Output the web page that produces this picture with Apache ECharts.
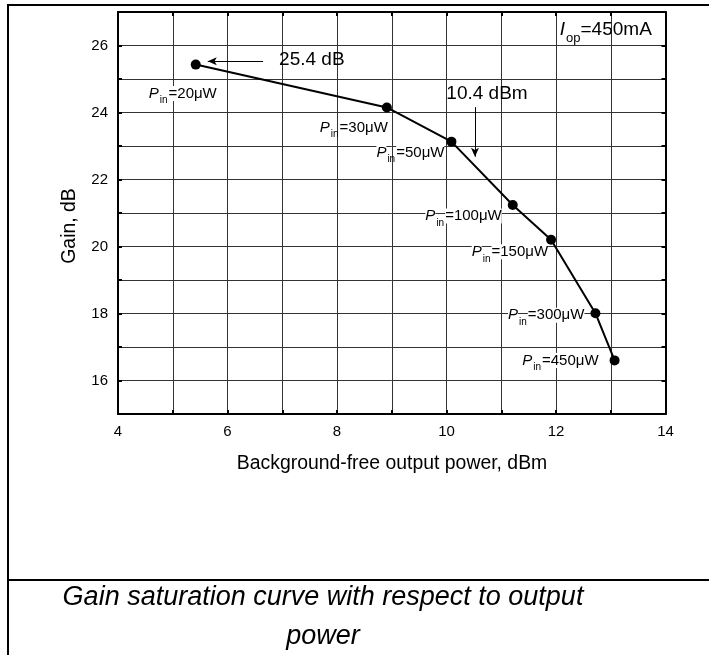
<!DOCTYPE html>
<html><head><meta charset="utf-8">
<script src="https://cdn.jsdelivr.net/npm/echarts@6/dist/echarts.min.js"></script>
<style>html,body{margin:0;padding:0;background:#fff}#c{width:709px;height:655px}</style>
</head><body><div id="c"></div>
<script>
// ---- data ----
const outputPower = [5.42, 8.91, 10.09, 11.21, 11.91, 12.72, 13.07];   // dBm
const gain        = [25.43, 24.15, 23.13, 21.24, 20.20, 18.01, 16.60]; // dB
const inputPower  = ['20μW', '30μW', '50μW', '100μW', '150μW', '300μW', '450μW'];
const xTickLabels = [4, 6, 8, 10, 12, 14];
const yTickLabels = [16, 18, 20, 22, 24, 26];
const annotationTexts = ['25.4 dB', '10.4 dBm', 'Iop'];
const annotationX = [7.54, 10.74, 13.75];
const annotationY = [25.58, 24.55, 26.47];
const arrowFrom = [[6.65, 25.53], [10.52, 24.16]];
const arrowTo   = [[5.64, 25.53], [10.52, 22.68]];
const currentValue = '450mA';

// ---- layout / style ----
const FONT = '"Liberation Sans", Arial, sans-serif';
const labelLayout = [
  { align: 'left',  dx: -47, dy: 29 },
  { align: 'right', dx: 1,   dy: 20 },
  { align: 'right', dx: -7,  dy: 11 },
  { align: 'right', dx: -11, dy: 11 },
  { align: 'right', dx: -3,  dy: 12 },
  { align: 'right', dx: -11, dy: 2 },
  { align: 'right', dx: -16, dy: 0 }
];
const annoLayout = [
  { align: 'center', rich: false },
  { align: 'center', rich: false },
  { align: 'right', rich: true }
];
const pinRich = {
  p: { fontFamily: FONT, fontSize: 15, fontStyle: 'italic', color: '#000', backgroundColor: '#fff', lineHeight: 15 },
  s: { fontFamily: FONT, fontSize: 10, color: '#000', padding: [14, 1, 0, 1], lineHeight: 10 },
  t: { fontFamily: FONT, fontSize: 15, color: '#000', backgroundColor: '#fff', lineHeight: 15 }
};
const iopRich = {
  p: { fontFamily: FONT, fontSize: 19, fontStyle: 'italic', color: '#000', lineHeight: 19 },
  s: { fontFamily: FONT, fontSize: 13, color: '#000', padding: [17, 0, 0, 1], lineHeight: 13 },
  t: { fontFamily: FONT, fontSize: 19, color: '#000', lineHeight: 19 }
};

const pointData = outputPower.map((x, i) => ({
  value: [x, gain[i]],
  label: {
    show: true,
    position: 'inside',
    align: labelLayout[i].align,
    verticalAlign: 'middle',
    offset: [labelLayout[i].dx, labelLayout[i].dy],
    formatter: '{p|P}{s|in}{t|=' + inputPower[i] + '}',
    rich: pinRich
  }
}));

const annoData = annotationTexts.map((t, i) => ({
  value: [annotationX[i], annotationY[i]],
  label: {
    show: true,
    position: 'inside',
    align: annoLayout[i].align,
    verticalAlign: 'middle',
    formatter: annoLayout[i].rich ? '{p|I}{s|op}{t|=' + currentValue + '}' : t,
    fontFamily: FONT, fontSize: 19, color: '#000',
    rich: annoLayout[i].rich ? iopRich : undefined
  }
}));

const gridLine = { show: true, lineStyle: { color: '#333', width: 1 } };
const frameLine = { show: true, onZero: false, lineStyle: { color: '#000', width: 2 } };
const innerTick = { show: true, inside: true, length: 4, lineStyle: { color: '#000', width: 2 } };

const chart = echarts.init(document.getElementById('c'), null, { renderer: 'canvas' });
chart.setOption({
  animation: false,
  backgroundColor: '#fff',
  grid: { left: 118, top: 12, right: 43.5, bottom: 241, containLabel: false },
  xAxis: [
    { type: 'value', min: 4, max: 14, interval: 1, position: 'bottom',
      axisLine: frameLine, axisTick: innerTick, splitLine: gridLine,
      axisLabel: { margin: 10, fontFamily: FONT, fontSize: 15, color: '#000',
        formatter: v => xTickLabels.includes(v) ? String(v) : '' } },
    { type: 'value', min: 4, max: 14, interval: 1, position: 'top',
      axisLine: frameLine, axisTick: innerTick, splitLine: { show: false }, axisLabel: { show: false } }
  ],
  yAxis: [
    { type: 'value', min: 15, max: 27, interval: 1, position: 'left',
      axisLine: frameLine, axisTick: innerTick, splitLine: gridLine,
      axisLabel: { margin: 10, fontFamily: FONT, fontSize: 15, color: '#000',
        formatter: v => yTickLabels.includes(v) ? String(v) : '' } },
    { type: 'value', min: 15, max: 27, interval: 1, position: 'right',
      axisLine: frameLine, axisTick: innerTick, splitLine: { show: false }, axisLabel: { show: false } }
  ],
  series: [
    {
      type: 'line',
      data: pointData,
      symbol: 'circle', symbolSize: 10,
      itemStyle: { color: '#000' },
      lineStyle: { color: '#000', width: 2 },
      z: 3
    },
    {
      type: 'scatter',
      data: annoData,
      symbolSize: 0,
      silent: true,
      itemStyle: { color: '#000', opacity: 1 },
      z: 4,
      markLine: {
        silent: true,
        symbol: ['none', 'arrow'],
        symbolSize: [6, 9],
        label: { show: false },
        lineStyle: { color: '#000', width: 1, type: 'solid', opacity: 1 },
        data: arrowFrom.map((f, i) => [{ coord: f }, { coord: arrowTo[i] }])
      }
    }
  ],
  graphic: [
    { type: 'line', shape: { x1: 8, y1: 5, x2: 709, y2: 5 }, style: { stroke: '#000', lineWidth: 2 } },
    { type: 'line', shape: { x1: 8, y1: 4, x2: 8, y2: 655 }, style: { stroke: '#000', lineWidth: 2 } },
    { type: 'line', shape: { x1: 8, y1: 580, x2: 709, y2: 580 }, style: { stroke: '#000', lineWidth: 2 } },
    { type: 'text', x: 392, y: 464, style: { text: 'Background-free output power, dBm', font: '19.4px ' + FONT, fill: '#000', textAlign: 'center', textVerticalAlign: 'middle' } },
    { type: 'text', x: 70, y: 226, rotation: Math.PI / 2, style: { text: 'Gain, dB', font: '19.4px ' + FONT, fill: '#000', textAlign: 'center', textVerticalAlign: 'middle' } },
    { type: 'text', x: 323, y: 597, style: { text: 'Gain saturation curve with respect to output', font: 'italic 27px ' + FONT, fill: '#000', textAlign: 'center', textVerticalAlign: 'middle' } },
    { type: 'text', x: 323, y: 636, style: { text: 'power', font: 'italic 27px ' + FONT, fill: '#000', textAlign: 'center', textVerticalAlign: 'middle' } }
  ]
});
</script></body></html>
